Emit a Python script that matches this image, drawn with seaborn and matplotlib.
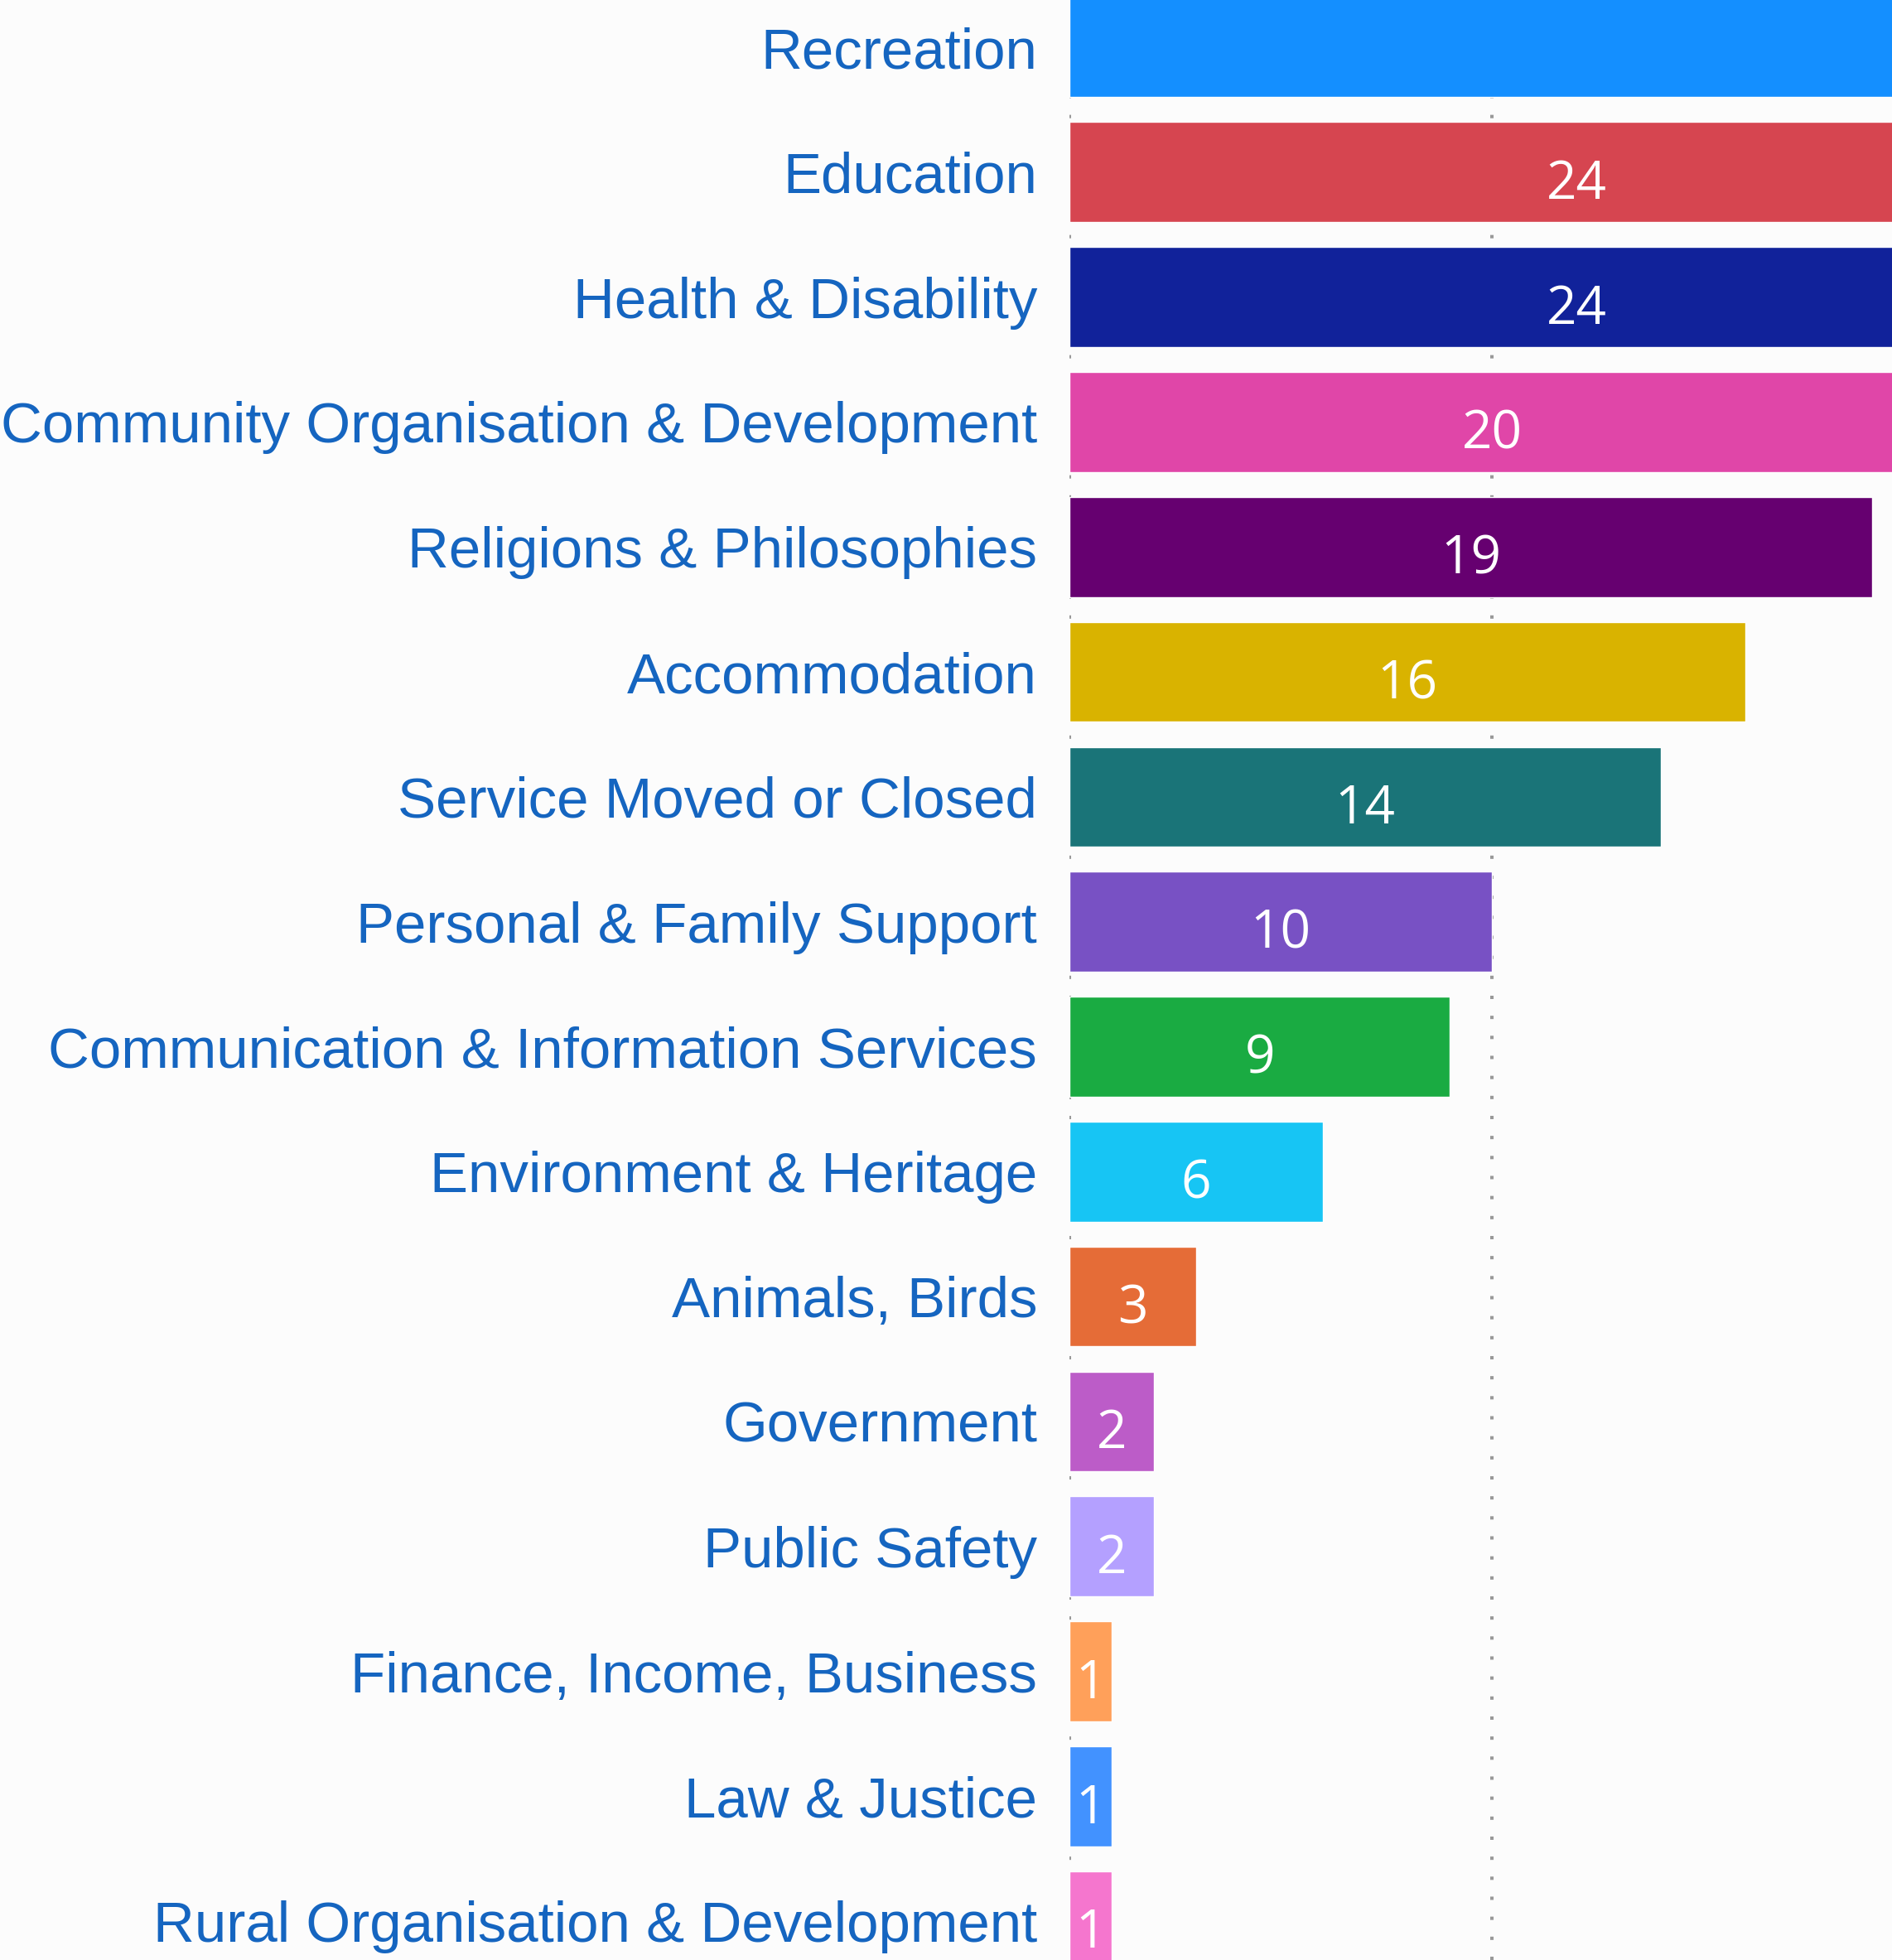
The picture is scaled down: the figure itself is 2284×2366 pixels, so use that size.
import matplotlib
matplotlib.use('Agg')
import matplotlib.pyplot as plt
import seaborn as sns
import pandas as pd

# Values (Recreation is clipped, estimated)
categories = [
    'Recreation', 'Education', 'Health & Disability',
    'Community Organisation & Development', 'Religions & Philosophies',
    'Accommodation', 'Service Moved or Closed', 'Personal & Family Support',
    'Communication & Information Services', 'Environment & Heritage',
    'Animals, Birds', 'Government', 'Public Safety',
    'Finance, Income, Business', 'Law & Justice',
    'Rural Organisation & Development',
]
counts = [46, 24, 24, 20, 19, 16, 14, 10, 9, 6, 3, 2, 2, 1, 1, 1]
colors = [
    '#148fff', '#d64550', '#11229a', '#e046a8', '#660070', '#d9b300',
    '#1a7478', '#7851c4', '#1aab42', '#17c5f4', '#e56c37', '#bc5cc8',
    '#b4a0ff', '#ffa05a', '#4292ff', '#f576ce',
]

df = pd.DataFrame({'category': categories, 'count': counts})

bg = '#fcfcfc'
sns.set_style('white')
plt.rcParams['font.family'] = ['Liberation Sans', 'DejaVu Sans']

fig = plt.figure(figsize=(22.84, 23.66), dpi=100, facecolor=bg)
ax = fig.add_axes([1291 / 2284, 0, 1 - 1291 / 2284, 1])
ax.set_facecolor(bg)

sns.barplot(
    data=df, x='count', y='category', hue='category',
    palette=colors, legend=False, width=0.8, orient='h',
    saturation=1, ax=ax, zorder=2,
)

for xv in [0, 10, 20]:
    ax.axvline(xv, color='#999999', lw=2.9, ls=(0, (1, 5)), zorder=1)

# value labels centred in each bar, clipped like the bars
for i, v in enumerate(counts):
    ax.text(v / 2, i + 0.1, str(v), ha='center', va='center',
            color='white', fontsize=46, family='Open Sans', zorder=3,
            clip_on=True)

ax.set_xlim(0, 19.47)
ax.set_ylim(15.31, -0.378)
ax.set_xlabel('')
ax.set_ylabel('')
ax.set_xticks([])
ax.tick_params(axis='y', length=0, pad=28, labelsize=49.8, labelcolor='#1565c0')
for s in ax.spines.values():
    s.set_visible(False)

fig.savefig('out.png', dpi=100, facecolor=bg)
